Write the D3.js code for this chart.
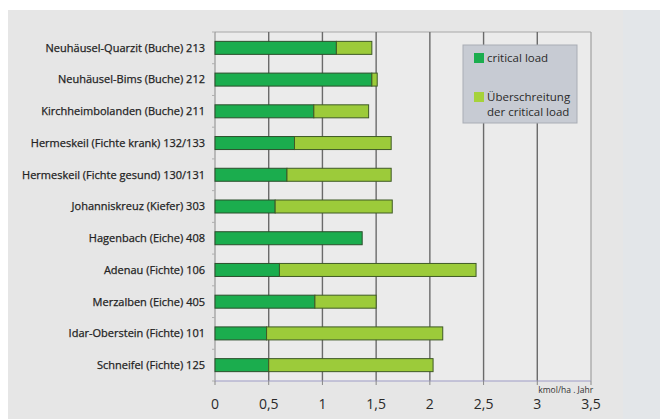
<!DOCTYPE html>
<html>
<head>
<meta charset="utf-8">
<script src="https://cdn.jsdelivr.net/npm/d3@7"></script>
<style>
  body { margin: 0; background: #ffffff; }
  text { font-family: "Open Sans", "Noto Sans", sans-serif; }
</style>
</head>
<body>
<div id="chart"></div>
<script>
// Data
const sites = ["Neuhäusel-Quarzit (Buche) 213", "Neuhäusel-Bims (Buche) 212", "Kirchheimbolanden (Buche) 211",
   "Hermeskeil (Fichte krank) 132/133", "Hermeskeil (Fichte gesund) 130/131", "Johanniskreuz (Kiefer) 303",
   "Hagenbach (Eiche) 408", "Adenau (Fichte) 106", "Merzalben (Eiche) 405", "Idar-Oberstein (Fichte) 101",
   "Schneifel (Fichte) 125"];
const criticalLoad = [1.13, 1.46, 0.92, 0.74, 0.67, 0.56, 1.37, 0.60, 0.93, 0.48, 0.50];
const exceedance   = [0.33, 0.05, 0.51, 0.90, 0.97, 1.09, 0.00, 1.83, 0.57, 1.64, 1.53];
const xTicks = [0, 0.5, 1, 1.5, 2, 2.5, 3, 3.5];
const legendLabels = [["critical load"], ["Überschreitung", "der critical load"]];

let width = 660, height = 419;
let margin = { top: 32, left: 215, right: 68, bottom: 38 };

let svg = d3.select("#chart")
            .append("svg")
            .attr("width", width)
            .attr("height", height);

// background panels
svg.append("rect").attr("x", 0).attr("y", 0).attr("width", width).attr("height", height).attr("fill", "#ffffff");
svg.append("rect").attr("x", 8).attr("y", 10).attr("width", 615).attr("height", height - 10).attr("fill", "#e6e6e6");
svg.append("rect").attr("x", 623).attr("y", 10).attr("width", 37).attr("height", height - 10).attr("fill", "#e3e6e9");

let x = d3.scaleLinear()
          .domain([0, 3.5])
          .range([margin.left, width - margin.right - 1]);

let y = d3.scaleBand()
          .domain(sites)
          .range([margin.top, height - margin.bottom])
          .paddingInner(0.59)
          .paddingOuter(0.295);

let plotBottom = height - margin.bottom;

// plot area
svg.append("rect")
   .attr("x", x(0)).attr("y", margin.top)
   .attr("width", x(3.5) - x(0)).attr("height", plotBottom - margin.top)
   .attr("fill", "#ebebeb");

// top border
svg.append("line")
   .attr("x1", x(0)).attr("x2", x(3.5))
   .attr("y1", margin.top).attr("y2", margin.top)
   .attr("stroke", "#a8a8a8").attr("stroke-width", 1);

// vertical gridlines
svg.selectAll(".grid")
   .data(xTicks.slice(1))
   .enter()
   .append("line")
   .attr("class", "grid")
   .attr("x1", d => x(d)).attr("x2", d => x(d))
   .attr("y1", margin.top).attr("y2", plotBottom)
   .attr("stroke", d => d === 3.5 ? "#a0a0a0" : "#6a6a6a")
   .attr("stroke-width", d => d === 3.5 ? 1.2 : 1.4);

// left axis with small ticks at band boundaries
let step = y.step();
let bounds = d3.range(sites.length + 1).map(i => margin.top + i * step);
svg.append("line")
   .attr("x1", x(0)).attr("x2", x(0))
   .attr("y1", margin.top).attr("y2", plotBottom)
   .attr("stroke", "#8a8a8a");
svg.selectAll(".ltick")
   .data(bounds)
   .enter()
   .append("line")
   .attr("x1", x(0) - 3).attr("x2", x(0))
   .attr("y1", d => d).attr("y2", d => d)
   .attr("stroke", "#b0b0b0");

// bars: critical load
svg.selectAll(".crit")
   .data(sites)
   .enter()
   .append("rect")
   .attr("x", x(0))
   .attr("y", d => y(d))
   .attr("width", (d, i) => x(criticalLoad[i]) - x(0))
   .attr("height", y.bandwidth())
   .attr("fill", "#1bad4e")
   .attr("stroke", "#2c4f2c")
   .attr("stroke-width", 1);

// bars: exceedance
svg.selectAll(".exc")
   .data(sites.filter((d, i) => exceedance[i] > 0))
   .enter()
   .append("rect")
   .attr("x", d => x(criticalLoad[sites.indexOf(d)]))
   .attr("y", d => y(d))
   .attr("width", d => x(criticalLoad[sites.indexOf(d)] + exceedance[sites.indexOf(d)]) - x(criticalLoad[sites.indexOf(d)]))
   .attr("height", y.bandwidth())
   .attr("fill", "#9ccb3a")
   .attr("stroke", "#3f5a26")
   .attr("stroke-width", 1);

// category labels
svg.selectAll(".lab")
   .data(sites)
   .enter()
   .append("text")
   .attr("x", x(0) - 10)
   .attr("y", d => y(d) + y.bandwidth() / 2)
   .attr("dy", "0.35em")
   .attr("text-anchor", "end")
   .attr("font-size", "11px")
   .attr("fill", "#222")
   .style("paint-order", "stroke")
   .style("stroke", "#222")
   .style("stroke-width", "0.25px")
   .text(d => d);

// bottom axis
svg.append("line")
   .attr("x1", x(0)).attr("x2", x(3.5))
   .attr("y1", plotBottom).attr("y2", plotBottom)
   .attr("stroke", "#9d9bc6").attr("stroke-width", 1.2);
svg.selectAll(".btick")
   .data(xTicks)
   .enter()
   .append("line")
   .attr("x1", d => x(d)).attr("x2", d => x(d))
   .attr("y1", plotBottom).attr("y2", plotBottom + 4)
   .attr("stroke", "#888");
svg.selectAll(".blab")
   .data(xTicks)
   .enter()
   .append("text")
   .attr("x", d => x(d))
   .attr("y", 409)
   .attr("text-anchor", "middle")
   .attr("font-size", "14px")
   .attr("fill", "#2a2a2a")
   .text(d => String(d).replace(".", ","));

// unit label
svg.append("text")
   .attr("x", x(3) + 1)
   .attr("y", 393)
   .attr("font-size", "8.5px")
   .attr("fill", "#333")
   .text("kmol/ha . Jahr");

// legend
let lg = svg.append("g").attr("transform", "translate(463,45)");
lg.append("rect")
  .attr("width", 114).attr("height", 78)
  .attr("fill", "#c7cbd3")
  .attr("stroke", "#a9adb5");
let legendColors = ["#1bad4e", "#a6d23a"];
legendLabels.forEach((lines, i) => {
   let yy = 13 + i * 39;
   lg.append("rect")
     .attr("x", 11).attr("y", yy - 5)
     .attr("width", 10).attr("height", 10)
     .attr("fill", legendColors[i]);
   lines.forEach((t, j) => {
      lg.append("text")
        .attr("x", 24)
        .attr("y", yy + j * 15)
        .attr("dy", "0.35em")
        .attr("font-size", "11.5px")
        .attr("fill", "#2a2a2a")
        .text(t);
   });
});
</script>
</body>
</html>
